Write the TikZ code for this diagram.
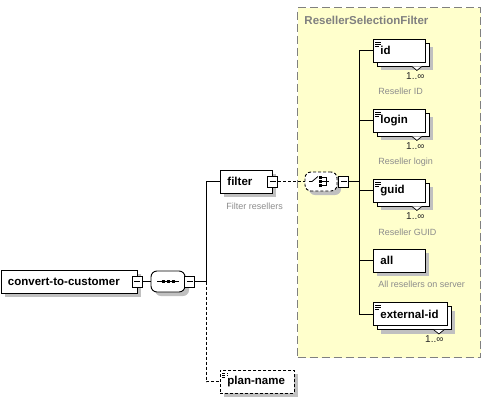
\documentclass[tikz,border=0pt]{standalone}
\usepackage{fontspec}
\setmainfont{Liberation Sans}
\usetikzlibrary{positioning,shadows}
\definecolor{grpfill}{RGB}{255,255,204}
\definecolor{grpline}{RGB}{128,128,128}
\definecolor{shade}{RGB}{192,192,192}
\definecolor{note}{RGB}{140,140,140}
\begin{document}
\begin{tikzpicture}[x=1pt,y=-1pt,line width=0.9pt,
    box/.style={draw,fill=white,anchor=west,minimum height=23pt,inner xsep=7pt,
      text width=#1,align=left,font=\fontsize{11.5}{13}\selectfont\bfseries},
    elem/.style={box=#1,drop shadow={shadow xshift=4pt,shadow yshift=-4pt,fill=shade,opacity=1}},
    multi/.style={box=#1,drop shadow={shadow xshift=8pt,shadow yshift=-8pt,fill=shade,opacity=1},
      copy shadow={shadow xshift=4pt,shadow yshift=-4pt,fill=white,draw=black},txt},
    txt/.style={path picture={
      \draw[line width=0.7pt] ([shift={(2pt,-3pt)}]path picture bounding box.north west) -- ++(6pt,0)
        ([shift={(2pt,-5pt)}]path picture bounding box.north west) -- ++(6pt,0)
        ([shift={(2pt,-7pt)}]path picture bounding box.north west) -- ++(4pt,0);}},
    opt/.style={dash pattern=on 3pt off 2pt},
    minus/.style={draw,fill=white,minimum width=10pt,minimum height=11pt,inner sep=0pt,
      path picture={\draw ([xshift=2pt]path picture bounding box.west) -- ([xshift=-2pt]path picture bounding box.east);}},
    group/.style={draw,fill=white,rounded corners=6pt,inner sep=0pt,minimum width=34pt,minimum height=21pt,
      drop shadow={shadow xshift=4pt,shadow yshift=-4pt,fill=shade,opacity=1}},
    occ/.style={anchor=east,inner sep=0pt,font=\fontsize{10}{11}\selectfont,text=black!85},
    desc/.style={anchor=west,inner sep=0pt,font=\fontsize{9}{10}\selectfont,text=note}]
  \useasboundingbox (0,0) rectangle (485,400);

  % complex type area
  \node[draw=grpline,fill=grpfill,dash pattern=on 8pt off 4pt,line width=1pt,
    anchor=north west,minimum width=183pt,minimum height=350pt] (area) at (297,7) {};
  \node[anchor=west,inner sep=0pt,text=grpline,font=\fontsize{11.5}{12}\selectfont\bfseries]
    (areaname) at (304,20) {ResellerSelectionFilter};

  % root and sequence
  \node[elem=122pt] (cust) at (0.5,281.5) {convert-to-customer};
  \node[minus] (custm) at (cust.east) {};
  \node[group] (seq) at (168,281.5) {};
  \node[minus,right=-1pt of seq] (seqm) {};
  \draw ([xshift=-11pt]seq.center) -- ([xshift=11pt]seq.center);
  \fill ([xshift=-5pt]seq.center) +(-1.5,-1.5) rectangle +(1.5,1.5);
  \fill (seq.center) +(-1.5,-1.5) rectangle +(1.5,1.5);
  \fill ([xshift=5pt]seq.center) +(-1.5,-1.5) rectangle +(1.5,1.5);
  \draw (custm.east) -- (seq.west);
  \coordinate (seqj) at ([xshift=11pt]seqm.east);

  \node[elem=38pt] (filter) at (220,181.5) {filter};
  \node[minus] (filterm) at (filter.east) {};
  \node[desc] (filterdesc) at ([shift={(6pt,-13pt)}]filter.south west) {Filter resellers};
  \node[elem=60pt,opt,txt] (plan) at (220,381.5) {plan-name};
  \draw (seqm.east) -- (seqj) |- (filter.west);
  \draw[opt] (seqj) |- (plan.west);

  % choice
  \node[group,opt,minimum width=32pt,minimum height=19pt] (choice) at (321,181.5) {};
  \node[minus,right=1pt of choice] (choicem) {};
  \draw[opt] (filterm.east) -- (choice.west);
  \draw[line width=0.8pt] ([xshift=-12pt]choice.center) -- ([xshift=-9pt]choice.center)
    -- ([shift={(-3pt,5pt)}]choice.center);
  \fill ([shift={(-2pt,5.2pt)}]choice.center) rectangle ++(2.6pt,-2.6pt);
  \fill ([shift={(-2pt,1.3pt)}]choice.center) rectangle ++(2.6pt,-2.6pt);
  \fill ([shift={(-2pt,-2.6pt)}]choice.center) rectangle ++(2.6pt,-2.6pt);
  \draw[line width=0.8pt] ([shift={(1pt,4pt)}]choice.center) -- ++(4pt,0) -- ++(0,-8pt) -- ++(-4pt,0)
    ([xshift=1pt]choice.center) -- ++(7pt,0);
  \coordinate (fork) at ([xshift=10pt]choicem.east);
  \draw (choicem.east) -- (fork);

  % children
  \node[multi=38pt] (id) at (373,50.5) {id};
  \node[multi=38pt] (login) at (373,120.5) {login};
  \node[multi=38pt] (guid) at (373,190.5) {guid};
  \node[elem=38pt] (all) at (373,260.5) {all};
  \node[multi=60pt] (extid) at (373,314) {external-id};
  \draw (fork) |- (id.west);
  \draw (fork) |- (login.west);
  \draw (fork) |- (guid.west);
  \draw (fork) |- (all.west);
  \draw (fork) |- (extid.west);

  \draw[fill=white,line width=0.7pt] ([shift={(-14pt,-4pt)}]id.south east) -- ++(5pt,-4pt) -- ++(5pt,4pt);
  \draw[fill=white,line width=0.7pt] ([shift={(-14pt,-4pt)}]login.south east) -- ++(5pt,-4pt) -- ++(5pt,4pt);
  \draw[fill=white,line width=0.7pt] ([shift={(-14pt,-4pt)}]guid.south east) -- ++(5pt,-4pt) -- ++(5pt,4pt);
  \draw[fill=white,line width=0.7pt] ([shift={(-14pt,-4pt)}]extid.south east) -- ++(5pt,-4pt) -- ++(5pt,4pt);

  \node[occ] (idocc) at ([shift={(-1pt,-14pt)}]id.south east) {1..∞};
  \node[occ] (loginocc) at ([shift={(-1pt,-14pt)}]login.south east) {1..∞};
  \node[occ] (guidocc) at ([shift={(-1pt,-14pt)}]guid.south east) {1..∞};
  \node[occ] (extidocc) at ([shift={(-4pt,-13pt)}]extid.south east) {1..∞};

  \node[desc] (iddesc) at ([shift={(5pt,-29pt)}]id.south west) {Reseller ID};
  \node[desc] (logindesc) at ([shift={(5pt,-30pt)}]login.south west) {Reseller login};
  \node[desc] (guiddesc) at ([shift={(5pt,-30pt)}]guid.south west) {Reseller GUID};
  \node[desc] (alldesc) at ([shift={(5pt,-12pt)}]all.south west) {All resellers on server};
\end{tikzpicture}
\end{document}
